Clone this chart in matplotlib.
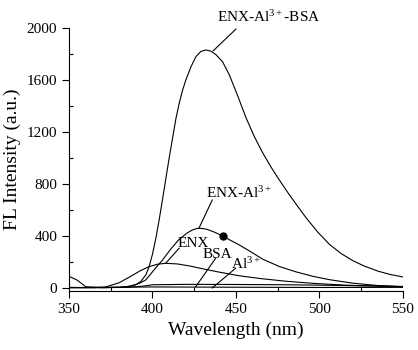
import numpy as np
import matplotlib.pyplot as plt
from matplotlib.ticker import MultipleLocator

plt.rcParams['font.family'] = ['Liberation Serif', 'DejaVu Serif']
plt.rcParams['mathtext.fontset'] = 'custom'
plt.rcParams['mathtext.rm'] = 'Liberation Serif'
plt.rcParams['mathtext.it'] = 'Liberation Serif'

# ENX-Al3+-BSA
wl_complex = [350, 360, 370, 380, 385, 390, 393, 396, 398, 400, 402, 404, 406, 408, 410, 412, 414,
              416, 418, 420, 423, 426, 429, 432, 435, 438, 442, 446, 451, 456, 461, 466, 471,
              476, 481, 486, 492, 499, 506, 513, 520, 527, 535, 542, 550]
fl_complex = [5, 3, 3, 5, 10, 25, 50, 100, 164, 260, 380, 523, 680, 840, 1000, 1150, 1300,
              1420, 1520, 1600, 1700, 1779, 1820, 1831, 1822, 1795, 1740, 1640, 1480, 1310, 1165, 1040, 930,
              830, 735, 645, 540, 430, 335, 265, 210, 168, 130, 105, 85]

# ENX-Al3+
wl_enx_al = [350, 370, 380, 387, 392, 396, 401, 406, 411, 416, 421, 424, 427, 430, 433, 438, 442, 447,
             452, 460, 466, 476, 486, 496, 506, 520, 535, 550]
fl_enx_al = [3, 3, 5, 15, 35, 62, 140, 215, 300, 375, 425, 447, 459, 458, 450, 425, 400, 365,
             331, 270, 222, 165, 124, 90, 64, 37, 19, 10]

# ENX
wl_enx = [350, 365, 372, 380, 387, 393, 398, 403, 408, 415, 422, 430, 440, 452, 465, 480, 496, 515, 535, 550]
fl_enx = [3, 3, 8, 40, 90, 135, 164, 183, 190, 185, 170, 148, 122, 94, 72, 52, 36, 22, 14, 10]

# BSA
wl_bsa = [350, 355, 360, 370, 385, 395, 400, 420, 450, 480, 510, 550]
fl_bsa = [90, 60, 10, 3, 5, 15, 25, 28, 27, 25, 20, 12]

# Al3+
wl_al = [350, 400, 450, 500, 550]
fl_al = [3, 8, 6, 4, 5]

# highlighted point on ENX-Al3+
dot_wl, dot_fl = 442, 400

fig = plt.figure(figsize=(4.18, 3.5), dpi=100)
ax = fig.add_axes([0.165, 0.1686, 0.799, 0.7514])

lw = 0.8
ax.plot(wl_complex, fl_complex, color='black', lw=lw)
ax.plot(wl_enx_al, fl_enx_al, color='black', lw=lw)
ax.plot(wl_enx, fl_enx, color='black', lw=lw)
ax.plot(wl_bsa, fl_bsa, color='black', lw=lw)
ax.plot(wl_al, fl_al, color='black', lw=lw)
ax.plot([dot_wl], [dot_fl], 'o', color='black', ms=5)

# labels with leader lines
sup = r'$^{\mathregular{3+}}$'
labels = [
    ('ENX-Al' + sup + '-BSA', 469.5, 2085, 'center', (450, 436.4), (1992, 1825)),
    ('ENX-Al' + sup, 432, 731, 'left', (435.8, 427.8), (677, 459)),
    ('ENX', 415.3, 346, 'left', (415.9, 407.9), (305, 190)),
    ('BSA', 430.2, 256, 'left', (437.8, 425.9), (228, 10)),
    ('Al' + sup, 447, 185, 'left', (449.8, 435.8), (152, 0)),
]
for txt, tx, ty, ha, lx, ly in labels:
    ax.text(tx, ty, txt, ha=ha, va='center', fontsize=11)
    ax.plot(lx, ly, color='black', lw=lw, clip_on=False)

ax.set_xlim(350, 550)
ax.set_ylim(-23, 2000)
ax.xaxis.set_major_locator(MultipleLocator(50))
ax.xaxis.set_minor_locator(MultipleLocator(25))
ax.yaxis.set_major_locator(MultipleLocator(400))
ax.yaxis.set_minor_locator(MultipleLocator(200))
ax.tick_params(which='major', direction='out', length=5, width=0.8, labelsize=11)
ax.tick_params(which='minor', direction='in', length=3, width=0.8)

ax.spines['top'].set_visible(False)
ax.spines['right'].set_visible(False)

ax.set_xlabel('Wavelength (nm)', fontsize=14)
ax.set_ylabel('FL Intensity (a.u.)', fontsize=14)

plt.savefig('out.png', dpi=100)
